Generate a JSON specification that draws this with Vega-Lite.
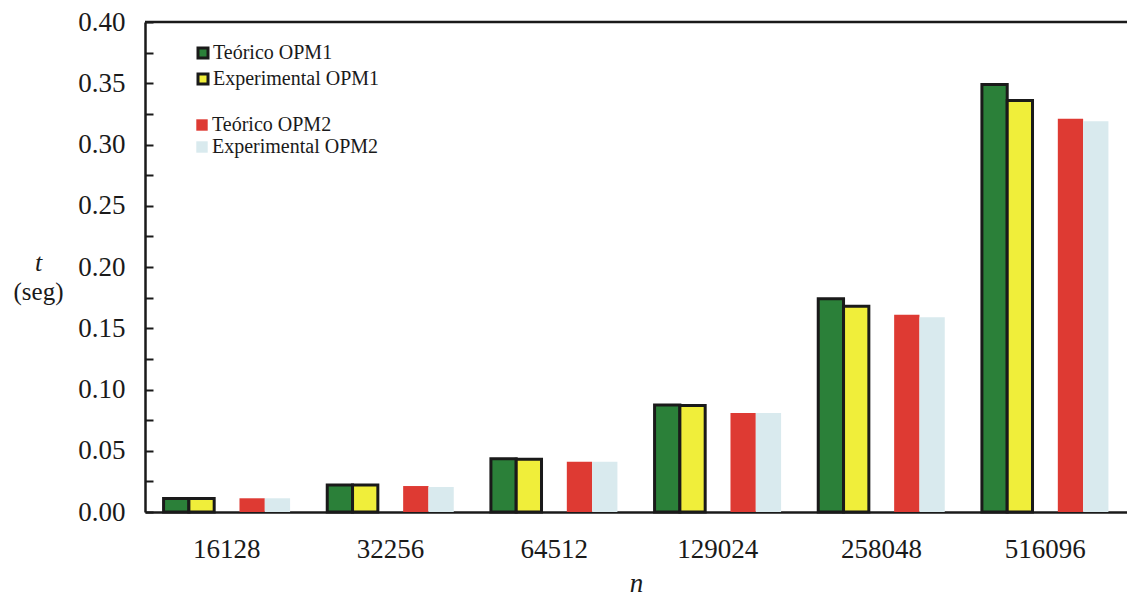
{
  "$schema": "https://vega.github.io/schema/vega-lite/v6.json",
  "width": 982,
  "height": 490,
  "autosize": {"type": "none"},
  "padding": {"left": 145, "top": 22, "right": 0, "bottom": 85},
  "background": "white",
  "config": {
    "view": {"stroke": null},
    "font": "'Liberation Serif', serif",
    "axis": {"labelFont": "'Liberation Serif', serif", "titleFont": "'Liberation Serif', serif", "labelColor": "#1a1a1a", "titleColor": "#1a1a1a", "domainColor": "#1a1a1a", "domainWidth": 2.5, "tickColor": "#1a1a1a", "grid": false},
    "legend": {"labelFont": "'Liberation Serif', serif", "labelLimit": 400}
  },
  "resolve": {"scale": {"y": "independent"}, "axis": {"y": "independent"}},
  "datasets": {
    "d": [
      {"n": "16128", "serie": "Teórico OPM1", "grupo": "OPM1", "t": 0.011},
      {"n": "16128", "serie": "Experimental OPM1", "grupo": "OPM1", "t": 0.011},
      {"n": "16128", "serie": "Teórico OPM2", "grupo": "OPM2", "t": 0.0112},
      {"n": "16128", "serie": "Experimental OPM2", "grupo": "OPM2", "t": 0.0112},
      {"n": "32256", "serie": "Teórico OPM1", "grupo": "OPM1", "t": 0.022},
      {"n": "32256", "serie": "Experimental OPM1", "grupo": "OPM1", "t": 0.022},
      {"n": "32256", "serie": "Teórico OPM2", "grupo": "OPM2", "t": 0.0212},
      {"n": "32256", "serie": "Experimental OPM2", "grupo": "OPM2", "t": 0.0204},
      {"n": "64512", "serie": "Teórico OPM1", "grupo": "OPM1", "t": 0.0435},
      {"n": "64512", "serie": "Experimental OPM1", "grupo": "OPM1", "t": 0.043},
      {"n": "64512", "serie": "Teórico OPM2", "grupo": "OPM2", "t": 0.041},
      {"n": "64512", "serie": "Experimental OPM2", "grupo": "OPM2", "t": 0.041},
      {"n": "129024", "serie": "Teórico OPM1", "grupo": "OPM1", "t": 0.0873},
      {"n": "129024", "serie": "Experimental OPM1", "grupo": "OPM1", "t": 0.087},
      {"n": "129024", "serie": "Teórico OPM2", "grupo": "OPM2", "t": 0.0808},
      {"n": "129024", "serie": "Experimental OPM2", "grupo": "OPM2", "t": 0.0808},
      {"n": "258048", "serie": "Teórico OPM1", "grupo": "OPM1", "t": 0.174},
      {"n": "258048", "serie": "Experimental OPM1", "grupo": "OPM1", "t": 0.168},
      {"n": "258048", "serie": "Teórico OPM2", "grupo": "OPM2", "t": 0.161},
      {"n": "258048", "serie": "Experimental OPM2", "grupo": "OPM2", "t": 0.159},
      {"n": "516096", "serie": "Teórico OPM1", "grupo": "OPM1", "t": 0.349},
      {"n": "516096", "serie": "Experimental OPM1", "grupo": "OPM1", "t": 0.336},
      {"n": "516096", "serie": "Teórico OPM2", "grupo": "OPM2", "t": 0.321},
      {"n": "516096", "serie": "Experimental OPM2", "grupo": "OPM2", "t": 0.319}
    ]
  },
  "layer": [
    {
      "layer": [
        {
          "data": {"name": "d"},
          "transform": [{"filter": "datum.grupo == 'OPM2'"}],
          "mark": {"type": "bar", "strokeWidth": 0},
          "encoding": {
            "x": {
              "field": "n", "type": "nominal", "sort": null,
              "scale": {"domain": ["16128", "32256", "64512", "129024", "258048", "516096"], "paddingInner": 0.227, "paddingOuter": 0.1135},
              "axis": {"title": "n", "titleFontStyle": "italic", "titleFontSize": 27, "titleFontWeight": "normal", "titlePadding": 8, "labelAngle": 0, "labelFontSize": 27, "labelPadding": 24, "ticks": false}
            },
            "xOffset": {
              "field": "serie", "type": "nominal",
              "scale": {"domain": ["Teórico OPM1", "Experimental OPM1", "_gap", "Teórico OPM2", "Experimental OPM2"], "paddingInner": 0, "paddingOuter": 0}
            },
            "y": {
              "field": "t", "type": "quantitative",
              "scale": {"domain": [0, 0.4], "nice": false},
              "axis": {
                "values": [0, 0.05, 0.1, 0.15, 0.2, 0.25, 0.3, 0.35, 0.4],
                "format": ".2f",
                "labelFontSize": 27, "labelPadding": 20, "ticks": false,
                "title": "t", "titleAngle": 0, "titleFontSize": 26, "titleFontWeight": "normal", "titleFontStyle": "italic",
                "titleAlign": "center", "titleBaseline": "middle", "titleX": -107, "titleY": 240
              }
            },
            "color": {
              "field": "serie", "type": "nominal",
              "scale": {"domain": ["Teórico OPM2", "Experimental OPM2"], "range": ["#de3a33", "#d9eaee"]},
              "legend": {"title": null, "orient": "none", "legendX": 47, "legendY": 93, "symbolType": "square", "symbolSize": 130, "symbolStrokeWidth": 0, "labelFontSize": 20, "labelColor": "#1a1a1a", "rowPadding": 2, "labelOffset": 0}
            }
          }
        },
        {
          "data": {"name": "d"},
          "transform": [{"filter": "datum.grupo == 'OPM1'"}],
          "mark": {"type": "bar", "stroke": "#1a1a1a", "strokeWidth": 3},
          "encoding": {
            "x": {"field": "n", "type": "nominal", "sort": null},
            "xOffset": {"field": "serie", "type": "nominal"},
            "y": {"field": "t", "type": "quantitative"},
            "fill": {
              "field": "serie", "type": "nominal",
              "scale": {"domain": ["Teórico OPM1", "Experimental OPM1"], "range": ["#2b8039", "#f0ee3a"]},
              "legend": {"title": null, "orient": "none", "legendX": 48, "legendY": 21, "symbolType": "square", "symbolSize": 100, "symbolStrokeColor": "#1a1a1a", "symbolStrokeWidth": 3, "labelFontSize": 20, "labelColor": "#1a1a1a", "rowPadding": 4, "labelOffset": 0}
            }
          }
        }
      ]
    },
    {
      "data": {"values": [{"top": 0.4}]},
      "mark": {"type": "rule", "color": "#1a1a1a", "strokeWidth": 2.5},
      "encoding": {
        "y": {
          "field": "top", "type": "quantitative",
          "scale": {"domain": [0, 0.4], "nice": false},
          "axis": {
            "orient": "right", "offset": -982, "labels": false, "domain": false,
            "values": [0, 0.025, 0.05, 0.075, 0.1, 0.125, 0.15, 0.175, 0.2, 0.225, 0.25, 0.275, 0.3, 0.325, 0.35, 0.375, 0.4],
            "ticks": true, "tickSize": 8, "tickWidth": 2, "tickColor": "#1a1a1a",
            "title": "(seg)", "titleAngle": 0, "titleFontSize": 25, "titleFontWeight": "normal",
            "titleAlign": "center", "titleBaseline": "middle", "titleX": -107, "titleY": 269
          }
        }
      }
    }
  ]
}
